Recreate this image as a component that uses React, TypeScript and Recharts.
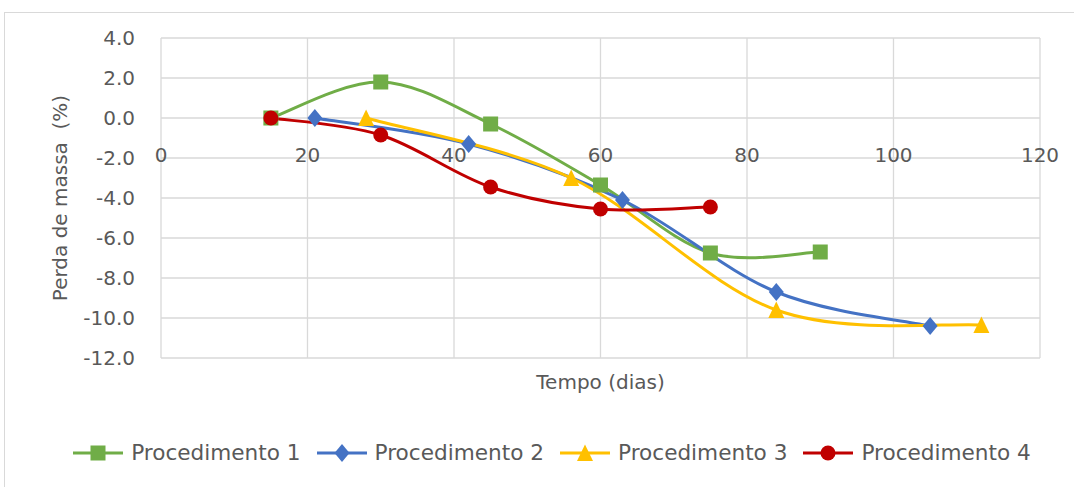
import { LineChart, Line, XAxis, YAxis, CartesianGrid, Legend } from "recharts";

const FONT = "'DejaVu Sans', sans-serif";
const TEXT = "#595959";
const GRID = "#d9d9d9";

const xTicks = [0, 20, 40, 60, 80, 100, 120];
const yTicks = [-12, -10, -8, -6, -4, -2, 0, 2, 4];

const proc1Dias = [15, 30, 45, 60, 75, 90];
const proc1Perda = [0, 1.8, -0.3, -3.35, -6.75, -6.7];

const proc2Dias = [21, 42, 63, 84, 105];
const proc2Perda = [0, -1.3, -4.1, -8.7, -10.4];

const proc3Dias = [28, 56, 84, 112];
const proc3Perda = [0, -3.0, -9.6, -10.35];

const proc4Dias = [15, 30, 45, 60, 75];
const proc4Perda = [0, -0.85, -3.45, -4.55, -4.45];

const toPoints = (xs: number[], ys: number[]) => xs.map((x, i) => ({ x, y: ys[i] }));

const series = [
  { name: "Procedimento 1", color: "#70AD47", marker: "square", data: toPoints(proc1Dias, proc1Perda) },
  { name: "Procedimento 2", color: "#4472C4", marker: "diamond", data: toPoints(proc2Dias, proc2Perda) },
  { name: "Procedimento 3", color: "#FFC000", marker: "triangle", data: toPoints(proc3Dias, proc3Perda) },
  { name: "Procedimento 4", color: "#C00000", marker: "circle", data: toPoints(proc4Dias, proc4Perda) },
];

// smoothed line like Excel's (catmull-rom, 1/6 of the neighbour difference)
const smoothCurve = (context: any) => {
  let pts: [number, number][] = [];
  return {
    areaStart() {},
    areaEnd() {},
    lineStart() {
      pts = [];
    },
    lineEnd() {
      if (!pts.length) return;
      context.moveTo(pts[0][0], pts[0][1]);
      for (let i = 0; i < pts.length - 1; i++) {
        const p0 = pts[i - 1] || pts[i];
        const p1 = pts[i];
        const p2 = pts[i + 1];
        const p3 = pts[i + 2] || p2;
        context.bezierCurveTo(
          p1[0] + (p2[0] - p0[0]) / 6,
          p1[1] + (p2[1] - p0[1]) / 6,
          p2[0] - (p3[0] - p1[0]) / 6,
          p2[1] - (p3[1] - p1[1]) / 6,
          p2[0],
          p2[1]
        );
      }
    },
    point(x: number, y: number) {
      pts.push([+x, +y]);
    },
  };
};

function Marker({ kind, cx, cy, color }: { kind: string; cx: number; cy: number; color: string }) {
  if (kind === "square") {
    return <rect x={cx - 7.5} y={cy - 7.5} width={15} height={15} fill={color} />;
  }
  if (kind === "diamond") {
    return <polygon points={`${cx},${cy - 9} ${cx + 7.5},${cy} ${cx},${cy + 9} ${cx - 7.5},${cy}`} fill={color} />;
  }
  if (kind === "triangle") {
    return <polygon points={`${cx},${cy - 8.5} ${cx + 8},${cy + 8} ${cx - 8},${cy + 8}`} fill={color} />;
  }
  return <circle cx={cx} cy={cy} r={7.5} fill={color} />;
}

const XTick = ({ x, y, payload }: any) => (
  <text x={x} y={y - 196} textAnchor="middle" fill={TEXT} fontSize={20} fontFamily={FONT}>
    {payload.value}
  </text>
);

const renderLegend = () => (
  <div
    style={{
      display: "flex",
      justifyContent: "center",
      alignItems: "center",
      fontFamily: FONT,
      fontSize: 21.6,
      color: TEXT,
    }}
  >
    {series.map((s) => (
      <div key={s.name} style={{ display: "flex", alignItems: "center", margin: "0 8px" }}>
        <svg width={50} height={20}>
          <line x1={0} y1={10} x2={50} y2={10} stroke={s.color} strokeWidth={3} />
          <Marker kind={s.marker} cx={25} cy={10} color={s.color} />
        </svg>
        <span style={{ marginLeft: 8 }}>{s.name}</span>
      </div>
    ))}
  </div>
);

export default function App() {
  return (
    <div style={{ position: "absolute", left: 0, top: 0, width: 1074, height: 487, background: "#fff", overflow: "hidden" }}>
      <div style={{ position: "absolute", left: 4, top: 12, width: 1100, height: 500, border: `1px solid ${GRID}` }} />
      <div style={{ position: "absolute", left: 0, top: 0 }}>
        <LineChart width={1074} height={487} margin={{ top: 38, right: 34, bottom: 89, left: 81 }}>
          <CartesianGrid stroke={GRID} strokeWidth={1.3} />
          <XAxis
            type="number"
            dataKey="x"
            domain={[0, 120]}
            ticks={xTicks}
            height={40}
            axisLine={false}
            tickLine={false}
            tickSize={0}
            tickMargin={0}
            tick={<XTick />}
            label={{ value: "Tempo (dias)", position: "center", dy: 4, fill: TEXT, fontSize: 20, fontFamily: FONT }}
          />
          <YAxis
            type="number"
            domain={[-12, 4]}
            ticks={yTicks}
            width={80}
            axisLine={false}
            tickLine={false}
            tickSize={0}
            tickMargin={26}
            tickFormatter={(v: number) => v.toFixed(1)}
            tick={{ fill: TEXT, fontSize: 20, fontFamily: FONT }}
            label={{
              value: "Perda de massa \u00A0(%)",
              angle: -90,
              position: "center",
              dx: -61,
              fill: TEXT,
              fontSize: 20,
              fontFamily: FONT,
            }}
          />
          <Legend
            layout="horizontal"
            verticalAlign="middle"
            align="center"
            wrapperStyle={{ top: 440, left: 15, width: 1074 }}
            content={renderLegend}
          />
          {series.map((s) => (
            <Line
              key={s.name}
              name={s.name}
              data={s.data}
              dataKey="y"
              type={smoothCurve as any}
              stroke={s.color}
              strokeWidth={3}
              isAnimationActive={false}
              dot={(p: any) => <Marker key={`${s.name}-${p.index}`} kind={s.marker} cx={p.cx} cy={p.cy} color={s.color} />}
              activeDot={false}
            />
          ))}
        </LineChart>
      </div>
    </div>
  );
}
